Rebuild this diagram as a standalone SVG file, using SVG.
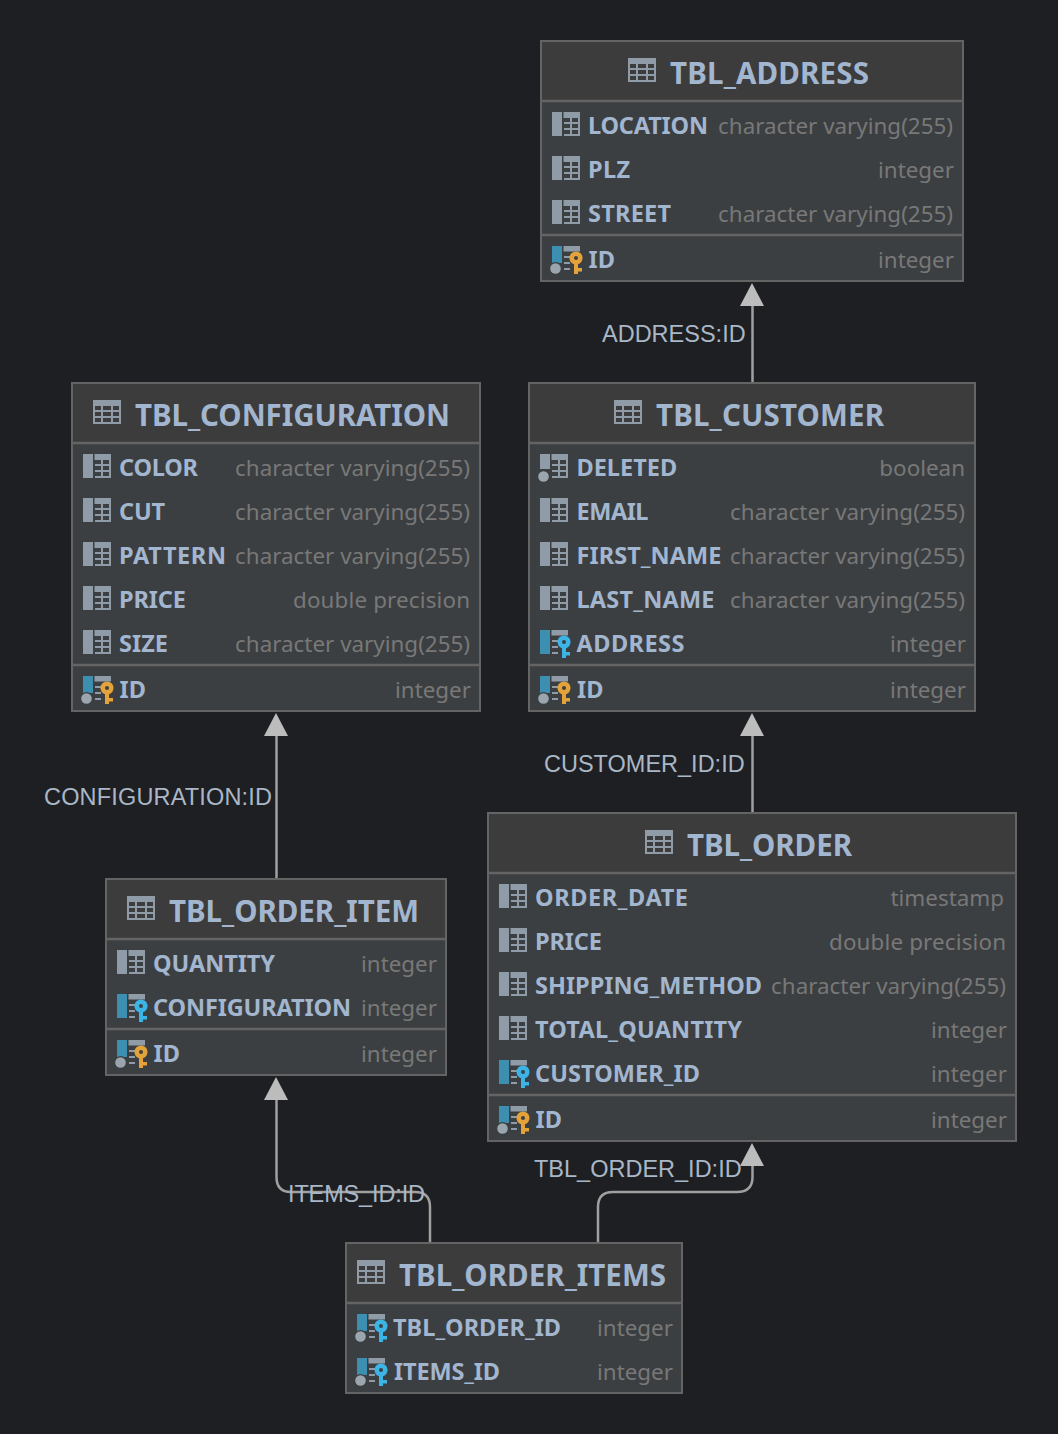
<svg xmlns="http://www.w3.org/2000/svg" xmlns:xlink="http://www.w3.org/1999/xlink" width="1058" height="1434" viewBox="0 0 1058 1434">
<style>
.box{fill:#3c3f41;stroke:#646464;stroke-width:2}
.hd{fill:#3c3c3c}
.sep{stroke:#646464;stroke-width:2.5;fill:none}
.title{font:700 29.500px "Noto Sans","Open Sans",sans-serif;fill:#a3b6cf}
.name{font:700 23.500px "Noto Sans","Open Sans",sans-serif;fill:#a3b6cf}
.type{font:400 22.400px "Noto Sans","Open Sans",sans-serif;fill:#787878;text-anchor:end}
.lbl{font:400 23.500px "Liberation Sans",Arial,sans-serif;fill:#a9b7c6}
.conn{fill:none;stroke:#a0a0a0;stroke-width:2.5}
.head{fill:#bcbcbc}
</style>
<defs>
<g id="ico-table">
<path fill="#8f9ca8" fill-rule="evenodd" d="M0 0H28V24H0ZM2 6V10H8V6ZM10 6V10H18V6ZM20 6V10H26V6ZM2 12V16H8V12ZM10 12V16H18V12ZM20 12V16H26V12ZM2 18V22H8V18ZM10 18V22H18V18ZM20 18V22H26V18Z"/>
</g>
<g id="tbl-part">
<path fill="#8f9ca8" fill-rule="evenodd" d="M11.500 0H28V24H18V6H11.500ZM20 6V10H26V6ZM20 12V16H26V12ZM20 18V22H26V18ZM12 10H18V12H12ZM12 16H18V18H12ZM12 22H18V24H12Z"/>
</g>
<g id="ico-col">
<rect width="10" height="24" fill="#8f9ca8"/>
<use href="#tbl-part"/>
</g>
<g id="ico-null">
<rect width="10" height="15" fill="#8f9ca8"/>
<circle cx="3.500" cy="22.500" r="6.500" fill="#3c3f41"/>
<circle cx="3.500" cy="22.500" r="5.300" fill="#9aa5ae"/>
<use href="#tbl-part"/>
</g>
<g id="key-part">
<path fill="#8f9ca8" d="M11.500 0H28V5.500H11.500ZM12 10H18V12H12ZM12 16H18V18H12ZM12 22H18V24H12Z"/>
</g>
<g id="ico-fk">
<rect width="10" height="24" fill="#3d8fb2"/>
<use href="#key-part"/>
<path fill="#3db4e6" fill-rule="evenodd" d="M24 5.500A6.500 6.500 0 0 1 26 18.200V22H30V25.500H26V28H22V18.200A6.500 6.500 0 0 1 24 5.500ZM24 10A2 2 0 1 0 24 14A2 2 0 1 0 24 10Z"/>
</g>
<g id="ico-pk">
<rect width="10" height="17" fill="#3d8fb2"/>
<circle cx="3.500" cy="22.500" r="6.500" fill="#3c3f41"/>
<circle cx="3.500" cy="22.500" r="5.300" fill="#9aa5ae"/>
<use href="#key-part"/>
<path fill="#e3a23a" fill-rule="evenodd" d="M24 5.500A6.500 6.500 0 0 1 26 18.200V22H30V25.500H26V28H22V18.200A6.500 6.500 0 0 1 24 5.500ZM24 10A2 2 0 1 0 24 14A2 2 0 1 0 24 10Z"/>
</g>
<g id="ico-fkn">
<rect width="10" height="17" fill="#3d8fb2"/>
<circle cx="3.500" cy="22.500" r="6.500" fill="#3c3f41"/>
<circle cx="3.500" cy="22.500" r="5.300" fill="#9aa5ae"/>
<use href="#key-part"/>
<path fill="#3db4e6" fill-rule="evenodd" d="M24 5.500A6.500 6.500 0 0 1 26 18.200V22H30V25.500H26V28H22V18.200A6.500 6.500 0 0 1 24 5.500ZM24 10A2 2 0 1 0 24 14A2 2 0 1 0 24 10Z"/>
</g>
</defs>
<rect width="1058" height="1434" fill="#1e1f22"/>

<g id="connectors">
<path class="conn" d="M752.500 383V300"/>
<path class="head" d="M752 283L764 306H740Z"/>
<path class="conn" d="M752.500 813V730"/>
<path class="head" d="M752 713L764 736H740Z"/>
<path class="conn" d="M276.500 879V730"/>
<path class="head" d="M276 713L288 736H264Z"/>
<path class="conn" d="M430 1243V1207Q430 1192 415 1192H291Q276.500 1192 276.500 1177V1095"/>
<path class="head" d="M276 1077L288 1100H264Z"/>
<path class="conn" d="M598 1243V1207Q598 1192 613 1192H737Q752.500 1192 752.500 1177V1160"/>
<path class="head" d="M752 1143L764 1166H740Z"/>
<text class="lbl" x="602" y="342">ADDRESS:ID</text>
<text class="lbl" x="544" y="772">CUSTOMER_ID:ID</text>
<text class="lbl" x="44" y="805" textLength="228">CONFIGURATION:ID</text>
<text class="lbl" x="288" y="1202" textLength="137">ITEMS_ID:ID</text>
<text class="lbl" x="534" y="1177">TBL_ORDER_ID:ID</text>
</g>

<g id="TBL_ADDRESS">
<rect class="box" x="541" y="41" width="422" height="240"/>
<rect class="hd" x="542" y="42" width="420" height="58"/>
<path class="sep" d="M541 101H963M541 235H963"/>
<use href="#ico-table" x="628" y="58"/>
<text class="title" x="670" y="84" textLength="199">TBL_ADDRESS</text>
<use href="#ico-col" x="552" y="112"/><text class="name" x="588" y="134" textLength="120">LOCATION</text><text class="type" x="953" y="134">character varying(255)</text>
<use href="#ico-col" x="552" y="156"/><text class="name" x="588" y="178" textLength="42">PLZ</text><text class="type" x="954" y="178">integer</text>
<use href="#ico-col" x="552" y="200"/><text class="name" x="588" y="222" textLength="83">STREET</text><text class="type" x="953" y="222">character varying(255)</text>
<use href="#ico-pk" x="552" y="246"/><text class="name" x="588.500" y="268">ID</text><text class="type" x="954" y="268">integer</text>
</g>

<g id="TBL_CONFIGURATION">
<rect class="box" x="72" y="383" width="408" height="328"/>
<rect class="hd" x="73" y="384" width="406" height="58"/>
<path class="sep" d="M72 443H480M72 665H480"/>
<use href="#ico-table" x="93" y="400"/>
<text class="title" x="135" y="426" textLength="315">TBL_CONFIGURATION</text>
<use href="#ico-col" x="83" y="454"/><text class="name" x="119" y="476" textLength="79">COLOR</text><text class="type" x="470" y="476">character varying(255)</text>
<use href="#ico-col" x="83" y="498"/><text class="name" x="119" y="520" textLength="46">CUT</text><text class="type" x="470" y="520">character varying(255)</text>
<use href="#ico-col" x="83" y="542"/><text class="name" x="119" y="564" textLength="107">PATTERN</text><text class="type" x="470" y="564">character varying(255)</text>
<use href="#ico-col" x="83" y="586"/><text class="name" x="119" y="608" textLength="67">PRICE</text><text class="type" x="470" y="608" textLength="177">double precision</text>
<use href="#ico-col" x="83" y="630"/><text class="name" x="119" y="652" textLength="49">SIZE</text><text class="type" x="470" y="652">character varying(255)</text>
<use href="#ico-pk" x="83" y="676"/><text class="name" x="119.500" y="698">ID</text><text class="type" x="471" y="698">integer</text>
</g>

<g id="TBL_CUSTOMER">
<rect class="box" x="529" y="383" width="446" height="328"/>
<rect class="hd" x="530" y="384" width="444" height="58"/>
<path class="sep" d="M529 443H975M529 665H975"/>
<use href="#ico-table" x="614" y="400"/>
<text class="title" x="656" y="426" textLength="228">TBL_CUSTOMER</text>
<use href="#ico-null" x="540" y="454"/><text class="name" x="576.500" y="476">DELETED</text><text class="type" x="965" y="476">boolean</text>
<use href="#ico-col" x="540" y="498"/><text class="name" x="576.500" y="520" textLength="72">EMAIL</text><text class="type" x="965" y="520">character varying(255)</text>
<use href="#ico-col" x="540" y="542"/><text class="name" x="576.500" y="564" textLength="145">FIRST_NAME</text><text class="type" x="965" y="564">character varying(255)</text>
<use href="#ico-col" x="540" y="586"/><text class="name" x="576.500" y="608" textLength="138">LAST_NAME</text><text class="type" x="965" y="608">character varying(255)</text>
<use href="#ico-fk" x="540" y="630"/><text class="name" x="576.500" y="652" textLength="108">ADDRESS</text><text class="type" x="966" y="652">integer</text>
<use href="#ico-pk" x="540" y="676"/><text class="name" x="577" y="698">ID</text><text class="type" x="966" y="698">integer</text>
</g>

<g id="TBL_ORDER">
<rect class="box" x="488" y="813" width="528" height="328"/>
<rect class="hd" x="489" y="814" width="526" height="58"/>
<path class="sep" d="M488 873H1016M488 1095H1016"/>
<use href="#ico-table" x="645" y="830"/>
<text class="title" x="687" y="856" textLength="165">TBL_ORDER</text>
<use href="#ico-col" x="499" y="884"/><text class="name" x="535" y="906" textLength="153">ORDER_DATE</text><text class="type" x="1004" y="906">timestamp</text>
<use href="#ico-col" x="499" y="928"/><text class="name" x="535" y="950" textLength="67">PRICE</text><text class="type" x="1006" y="950" textLength="177">double precision</text>
<use href="#ico-col" x="499" y="972"/><text class="name" x="535" y="994" textLength="227">SHIPPING_METHOD</text><text class="type" x="1006" y="994">character varying(255)</text>
<use href="#ico-col" x="499" y="1016"/><text class="name" x="535" y="1038" textLength="207">TOTAL_QUANTITY</text><text class="type" x="1007" y="1038">integer</text>
<use href="#ico-fk" x="499" y="1060"/><text class="name" x="535" y="1082" textLength="165">CUSTOMER_ID</text><text class="type" x="1007" y="1082">integer</text>
<use href="#ico-pk" x="499" y="1106"/><text class="name" x="535.500" y="1128">ID</text><text class="type" x="1007" y="1128">integer</text>
</g>

<g id="TBL_ORDER_ITEM">
<rect class="box" x="106" y="879" width="340" height="196"/>
<rect class="hd" x="107" y="880" width="338" height="58"/>
<path class="sep" d="M106 939H446M106 1029H446"/>
<use href="#ico-table" x="127" y="896"/>
<text class="title" x="169" y="922" textLength="250">TBL_ORDER_ITEM</text>
<use href="#ico-col" x="117" y="950"/><text class="name" x="153" y="972" textLength="122">QUANTITY</text><text class="type" x="437" y="972">integer</text>
<use href="#ico-fk" x="117" y="994"/><text class="name" x="153" y="1016" textLength="198">CONFIGURATION</text><text class="type" x="437" y="1016">integer</text>
<use href="#ico-pk" x="117" y="1040"/><text class="name" x="153.500" y="1062">ID</text><text class="type" x="437" y="1062">integer</text>
</g>

<g id="TBL_ORDER_ITEMS">
<rect class="box" x="346" y="1243" width="336" height="150"/>
<rect class="hd" x="347" y="1244" width="334" height="58"/>
<path class="sep" d="M346 1303H682"/>
<use href="#ico-table" x="357" y="1260"/>
<text class="title" x="399" y="1286" textLength="267">TBL_ORDER_ITEMS</text>
<use href="#ico-fkn" x="357" y="1314"/><text class="name" x="393" y="1336" textLength="168">TBL_ORDER_ID</text><text class="type" x="673" y="1336">integer</text>
<use href="#ico-fkn" x="357" y="1358"/><text class="name" x="394" y="1380" textLength="106">ITEMS_ID</text><text class="type" x="673" y="1380">integer</text>
</g>
</svg>
